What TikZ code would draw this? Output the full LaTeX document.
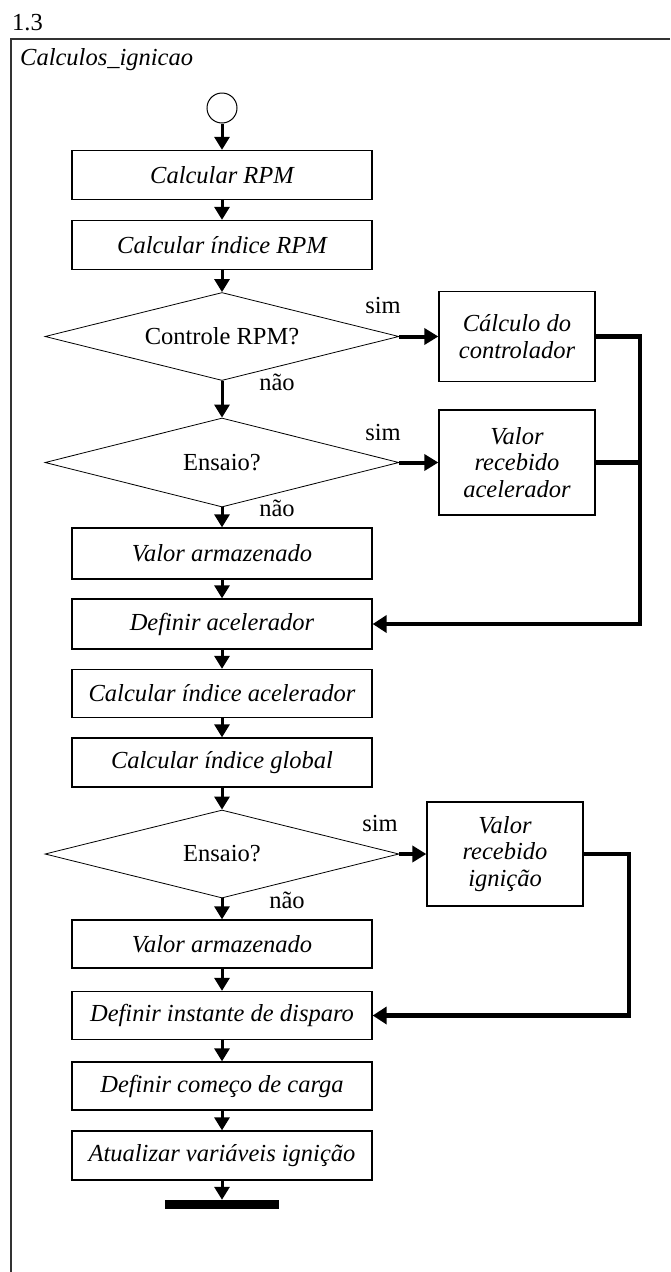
\documentclass[tikz,border=0pt]{standalone}
\usepackage{fontspec}
\setmainfont{Liberation Serif}
\usetikzlibrary{shapes.geometric,arrows.meta}
\begin{document}
\begin{tikzpicture}[x=1pt,y=-1pt,
  txt/.style={inner sep=0pt, font=\fontsize{24.5}{27}\selectfont},
  proc/.style={draw, line width=1.3pt, rectangle, minimum width=300pt,
    minimum height=49pt, inner sep=2pt, font=\fontsize{24.5}{27}\selectfont\itshape},
  side/.style={draw, line width=1.3pt, rectangle, minimum width=156pt,
    align=center, inner sep=2pt, font=\fontsize{24.5}{26.5}\selectfont\itshape},
  decision/.style={draw, line width=0.8pt, diamond, aspect=4, minimum width=354pt,
    minimum height=88pt, inner sep=0pt, font=\fontsize{24.5}{27}\selectfont},
  flow/.style={line width=3pt, -{Triangle[width=15pt,length=13pt]}},
  yes/.style={line width=4pt, -{Triangle[width=16pt,length=14pt]}},
  back/.style={line width=4.5pt, line join=miter}
]
\useasboundingbox (0,0) rectangle (670,1272);

% outer frame of the activity
\draw[line width=1.5pt, black!80] (670,39) -- (11,39) -- (11,1272);
\node[txt, anchor=base west] (num) at (12,30) {1.3};
\node[txt, font=\fontsize{24.5}{27}\selectfont\itshape, anchor=base west] (title) at (20,65) {Calculos\_ignicao};

% main column
\node[draw, circle, minimum size=30pt, inner sep=0pt, line width=1pt] (start) at (222,108) {};
\node[proc] (b1) at (222,175) {Calcular RPM};
\node[proc] (b2) at (222,245) {Calcular índice RPM};
\node[decision] (d1) at (222,336.5) {Controle RPM?};
\node[decision, minimum height=89pt] (d2) at (222,462.5) {Ensaio?};
\node[proc, minimum height=51pt] (b3) at (222,553.5) {Valor armazenado};
\node[proc, minimum height=50pt] (b4) at (222,624) {Definir acelerador};
\node[proc, minimum height=48pt] (b5) at (222,693.5) {Calcular índice acelerador};
\node[proc] (b6) at (222,762.5) {Calcular índice global};
\node[decision] (d3) at (222,854) {Ensaio?};
\node[proc, minimum height=48pt] (b7) at (222,944) {Valor armazenado};
\node[proc, minimum height=48pt] (b8) at (222,1015.5) {Definir instante de disparo};
\node[proc, minimum height=48pt] (b9) at (222,1086) {Definir começo de carga};
\node[proc] (b10) at (222,1155.5) {Atualizar variáveis ignição};
\node[fill, minimum width=114pt, minimum height=9pt, inner sep=0pt] (bar) at (222,1204.5) {};

% side branches
\node[side, minimum height=90pt] (c1) at (517,336.5) {Cálculo do\\controlador};
\node[side, minimum height=105pt] (c2) at (517,462.5) {Valor\\recebido\\acelerador};
\node[side, minimum height=104pt] (c3) at (505,854) {Valor\\recebido\\ignição};

% branch labels
\node[txt] (s1) at (383,306) {sim};
\node[txt] (n1) at (277,382) {não};
\node[txt] (s2) at (383,433) {sim};
\node[txt] (n2) at (277,508) {não};
\node[txt] (s3) at (380,823) {sim};
\node[txt] (n3) at (287,900) {não};

% sequence arrows
\draw[flow] (start) -- (b1);
\draw[flow] (b1) -- (b2);
\draw[flow] (b2) -- (d1);
\draw[flow] (d1) -- (d2);
\draw[flow] (d2) -- (b3);
\draw[flow] (b3) -- (b4);
\draw[flow] (b4) -- (b5);
\draw[flow] (b5) -- (b6);
\draw[flow] (b6) -- (d3);
\draw[flow] (d3) -- (b7);
\draw[flow] (b7) -- (b8);
\draw[flow] (b8) -- (b9);
\draw[flow] (b9) -- (b10);
\draw[flow] (b10) -- (bar);

% "sim" branches
\draw[yes] (d1.east) -- (c1.west);
\draw[yes] (d2.east) -- (c2.west);
\draw[yes] (d3.east) -- (c3.west);

% merge lines back into the main column
\coordinate (j1) at (640,336.5);
\coordinate (j2) at (629,854);
\draw[back, -{Triangle[width=17pt,length=14pt]}] (c1.east) -- (j1) |- (b4.east);
\draw[back] (c2.east) -- (c2.east -| j1);
\draw[back, -{Triangle[width=17pt,length=14pt]}] (c3.east) -- (j2) |- (b8.east);
\end{tikzpicture}
\end{document}
